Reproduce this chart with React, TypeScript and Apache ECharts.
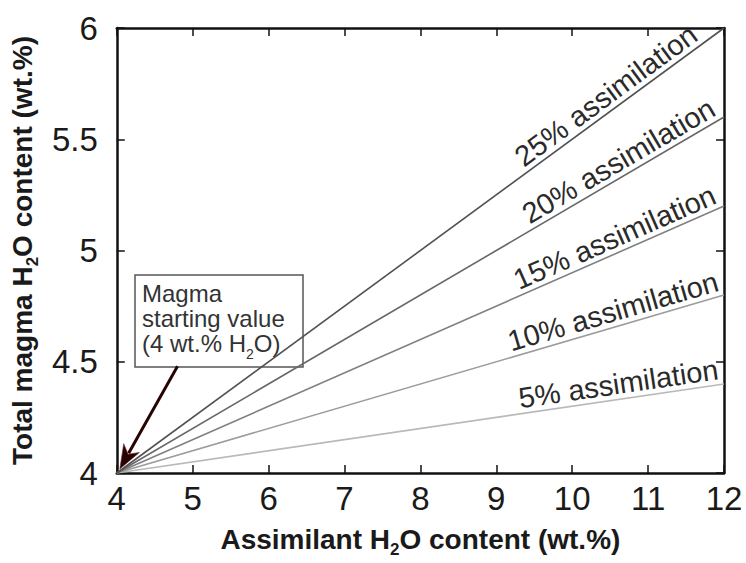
import React, { useEffect, useRef } from "react";
import * as echarts from "echarts";

const xMin = 4;
const xMax = 12;
const yMin = 4;
const yMax = 6;
const startValue = 4;
const assimilationLabels = ["5%", "10%", "15%", "20%", "25%"];
const endValues = [4.4, 4.8, 5.2, 5.6, 6.0];
const lineColors = ["#b9b9b9", "#9c9c9c", "#808080", "#676767", "#515151"];
const labelEndX = [11.95, 11.97, 11.95, 11.95, 11.72];
const arrowFrom = [4.8, 4.48];
const arrowTo = [4.04, 4.018];

const FONT = "'Liberation Sans', Arial, Helvetica, sans-serif";

export default function App() {
  const ref = useRef<HTMLDivElement>(null);
  useEffect(() => {
    document.body.style.margin = "0";
    const chart = echarts.init(ref.current!, undefined, { renderer: "svg" });
    const axisCommon = {
      type: "value" as const,
      axisLine: { show: true, lineStyle: { color: "#111", width: 2.5 } },
      axisTick: { show: true, inside: true, length: 8, lineStyle: { color: "#111", width: 1.5 } },
      splitLine: { show: false },
    };
    const subStyle = {
      fontSize: 17,
      fontWeight: "bold",
      fontFamily: FONT,
      color: "#1a1a1a",
      verticalAlign: "bottom",
      padding: [0, 0, -5, 0],
    };
    const series: any[] = assimilationLabels.map((lab, i) => ({
      type: "line",
      name: lab,
      data: [
        [xMin, startValue],
        [xMax, endValues[i]],
      ],
      symbol: "none",
      silent: true,
      lineStyle: { color: lineColors[i], width: 1.6 },
      z: 3,
    }));
    chart.setOption({
      animation: false,
      grid: { left: 112, right: 22, top: 28, bottom: 88, containLabel: false },
      xAxis: [
        {
          ...axisCommon,
          position: "bottom",
          min: xMin,
          max: xMax,
          interval: 1,
          axisLabel: { color: "#1a1a1a", fontSize: 33, fontFamily: FONT, margin: 9 },
          name: "Assimilant H{sub|2}O content (wt.%)",
          nameLocation: "middle",
          nameGap: 52,
          nameTextStyle: {
            color: "#1a1a1a",
            fontSize: 28,
            fontWeight: "bold",
            fontFamily: FONT,
            rich: { sub: subStyle },
          },
        },
        {
          ...axisCommon,
          position: "top",
          min: xMin,
          max: xMax,
          interval: 1,
          axisLabel: { show: false },
        },
      ],
      yAxis: [
        {
          ...axisCommon,
          position: "left",
          min: yMin,
          max: yMax,
          interval: 0.5,
          axisLabel: { color: "#1a1a1a", fontSize: 33, fontFamily: FONT, margin: 19 },
          name: "Total magma H{sub|2}O content (wt.%)",
          nameLocation: "middle",
          nameGap: 73,
          nameTextStyle: {
            color: "#1a1a1a",
            fontSize: 28,
            fontWeight: "bold",
            fontFamily: FONT,
            rich: { sub: subStyle },
          },
        },
        {
          ...axisCommon,
          position: "right",
          min: yMin,
          max: yMax,
          interval: 0.5,
          axisLabel: { show: false },
        },
      ],
      series,
    });

    const labels: any[] = assimilationLabels.map((lab, i) => {
      const p0 = chart.convertToPixel({ gridIndex: 0 }, [xMin, startValue]) as number[];
      const p1 = chart.convertToPixel({ gridIndex: 0 }, [xMax, endValues[i]]) as number[];
      const ang = Math.atan2(p0[1] - p1[1], p1[0] - p0[0]);
      const yAt = startValue + ((endValues[i] - startValue) * (labelEndX[i] - xMin)) / (xMax - xMin);
      const pa = chart.convertToPixel({ gridIndex: 0 }, [labelEndX[i], yAt]) as number[];
      const d = 1;
      return {
        type: "text",
        x: pa[0] - Math.sin(ang) * d,
        y: pa[1] - Math.cos(ang) * d,
        rotation: ang,
        z: 10,
        silent: true,
        style: {
          text: lab + " assimilation",
          fill: "#2a2a2a",
          font: `29px ${FONT}`,
          align: "right",
          verticalAlign: "bottom",
        },
      };
    });

    // arrow from annotation box to the starting point
    const a0 = chart.convertToPixel({ gridIndex: 0 }, arrowFrom) as number[];
    const a1 = chart.convertToPixel({ gridIndex: 0 }, arrowTo) as number[];
    const dx = a1[0] - a0[0];
    const dy = a1[1] - a0[1];
    const len = Math.hypot(dx, dy);
    const ux = dx / len;
    const uy = dy / len;
    const nx = -uy;
    const ny = ux;
    const L = 24;
    const W = 9;
    const notch = 17;
    const headPts = [
      [a1[0], a1[1]],
      [a1[0] - ux * L + nx * W, a1[1] - uy * L + ny * W],
      [a1[0] - ux * notch, a1[1] - uy * notch],
      [a1[0] - ux * L - nx * W, a1[1] - uy * L - ny * W],
    ];
    const arrowColor = "#260404";
    const arrow = [
      {
        type: "line",
        z: 15,
        silent: true,
        shape: { x1: a0[0], y1: a0[1], x2: a1[0] - ux * (notch + 1), y2: a1[1] - uy * (notch + 1) },
        style: { stroke: arrowColor, lineWidth: 3 },
      },
      {
        type: "polygon",
        z: 15,
        silent: true,
        shape: { points: headPts },
        style: { fill: arrowColor, stroke: "#7a2a2a", lineWidth: 0.6 },
      },
    ];

    const box = {
      type: "group",
      z: 20,
      silent: true,
      children: [
        {
          type: "rect",
          shape: { x: 135, y: 275, width: 168, height: 92 },
          style: { fill: "#fff", stroke: "#555", lineWidth: 1.5 },
        },
        {
          type: "text",
          x: 142,
          y: 281,
          style: {
            text: "Magma\nstarting value\n(4 wt.% H{sub|2}O)",
            fill: "#333",
            fontSize: 24,
            fontFamily: FONT,
            lineHeight: 25,
            align: "left",
            verticalAlign: "top",
            rich: {
              sub: { fontSize: 14, fontFamily: FONT, fill: "#333", verticalAlign: "bottom", padding: [0, 0, -5, 0] },
            },
          },
        },
      ],
    };

    chart.setOption({ graphic: [...labels, ...arrow, box] });
    return () => chart.dispose();
  }, []);
  return <div ref={ref} style={{ width: 746, height: 563 }} />;
}
